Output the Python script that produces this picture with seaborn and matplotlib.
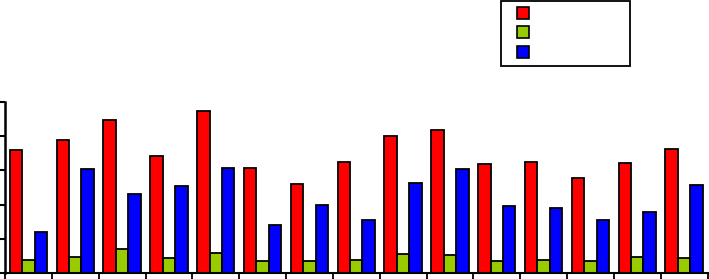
import numpy as np
import pandas as pd
import matplotlib
matplotlib.use("Agg")
import matplotlib.pyplot as plt
import seaborn as sns
from matplotlib.lines import Line2D
from matplotlib.ticker import FixedLocator

groups = [str(i) for i in range(1, 16)]
series = ["A", "B", "C"]
red_vals = [71.9, 77.9, 89.5, 68.4, 94.7, 61.3, 52.1, 65.0, 80.1, 83.6, 63.7, 65.0, 55.5, 64.5, 72.5]
green_vals = [7.6, 9.4, 14.1, 8.6, 11.7, 7.0, 7.0, 7.6, 10.9, 10.5, 6.8, 7.4, 6.8, 9.2, 8.6]
blue_vals = [24.0, 60.9, 46.1, 50.8, 61.5, 28.1, 39.8, 30.9, 52.7, 60.9, 39.1, 38.1, 30.9, 35.5, 51.4]
colors = ["#FF0000", "#99CC00", "#0000FF"]

df = pd.DataFrame({
    "group": groups * 3,
    "series": [series[0]] * 15 + [series[1]] * 15 + [series[2]] * 15,
    "value": red_vals + green_vals + blue_vals,
})

sns.set_style("white")
fig = plt.figure(figsize=(7.09, 2.79), dpi=100)
ax = fig.add_axes([5 / 709, 6 / 279, 702.5 / 709, 171 / 279])

sns.barplot(data=df, x="group", y="value", hue="series", palette=colors,
            saturation=1, edgecolor="black", linewidth=1.3, width=0.8,
            legend=False, errorbar=None, ax=ax)

ax.set_xlim(-0.5, 14.5)
ax.set_ylim(0, 100)
ax.set_xlabel("")
ax.set_ylabel("")
ax.set_yticks([0, 20, 40, 60, 80, 100])
ax.set_yticklabels([])
ax.set_xticks(range(15))
ax.set_xticklabels([])
ax.xaxis.set_minor_locator(FixedLocator(np.arange(-0.5, 15, 1)))
ax.tick_params(axis="x", which="major", length=0)
ax.tick_params(axis="x", which="minor", length=4, width=1.3, direction="out", color="black", bottom=True)
ax.tick_params(axis="y", which="major", length=4, width=1.5, direction="out", color="black", left=True)
for side in ["top", "right"]:
    ax.spines[side].set_visible(False)
ax.spines["left"].set_linewidth(1.8)
ax.spines["bottom"].set_linewidth(1.5)
ax.spines["left"].set_color("black")
ax.spines["bottom"].set_color("black")

handles = [Line2D([], [], linestyle="none", marker="s", markersize=8.6,
                  markerfacecolor=c, markeredgecolor="black", markeredgewidth=1.2)
           for c in colors]
leg = fig.legend(handles, ["", "", ""], loc="upper left",
                 bbox_to_anchor=(500.7 / 709, 1 - 0.7 / 279, 129.5 / 709, 0.0),
                 mode="expand", fontsize=9, handlelength=2.5, borderpad=0.5,
                 borderaxespad=0, labelspacing=0.54, fancybox=False,
                 frameon=True, framealpha=1)
leg.get_frame().set_edgecolor("black")
leg.get_frame().set_linewidth(1.3)

fig.savefig("out.png", dpi=100)
